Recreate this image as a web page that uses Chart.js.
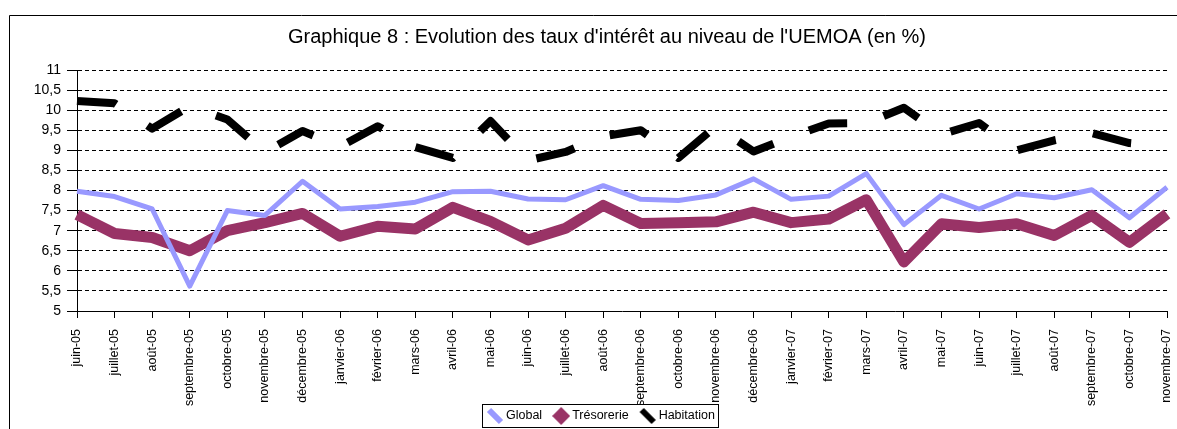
<!DOCTYPE html>
<html lang="fr">
<head>
<meta charset="utf-8">
<title>Graphique 8</title>
<script src="https://cdn.jsdelivr.net/npm/chart.js@4.4.1/dist/chart.umd.min.js"></script>
<style>
    html, body { margin: 0; padding: 0; background: #ffffff; }
    #wrap { width: 1177px; height: 429px; }
</style>
</head>
<body>
<div id="wrap"><canvas id="chart" width="1177" height="429"></canvas></div>
<script>
// Months (x categories)
const months = [
    'juin-05', 'juillet-05', 'août-05', 'septembre-05', 'octobre-05', 'novembre-05',
    'décembre-05', 'janvier-06', 'février-06', 'mars-06', 'avril-06', 'mai-06',
    'juin-06', 'juillet-06', 'août-06', 'septembre-06', 'octobre-06', 'novembre-06',
    'décembre-06', 'janvier-07', 'février-07', 'mars-07', 'avril-07', 'mai-07',
    'juin-07', 'juillet-07', 'août-07', 'septembre-07', 'octobre-07', 'novembre-07'
];

// Series values, in %
const globalRates = [
    7.98, 7.85, 7.54, 5.62, 7.50, 7.38, 8.23, 7.54, 7.60, 7.71,
    7.97, 7.98, 7.79, 7.77, 8.12, 7.78, 7.75, 7.89, 8.29, 7.78,
    7.86, 8.42, 7.15, 7.88, 7.54, 7.92, 7.82, 8.02, 7.32, 8.08
];
const tresorerieRates = [
    7.40, 6.93, 6.83, 6.50, 7.00, 7.20, 7.43, 6.86, 7.11, 7.04,
    7.58, 7.23, 6.77, 7.06, 7.63, 7.18, 7.20, 7.22, 7.46, 7.20,
    7.29, 7.77, 6.22, 7.17, 7.08, 7.17, 6.88, 7.38, 6.71, 7.42
];
const habitationRates = [
    10.23, 10.17, 9.54, 10.10, 9.77, 8.95, 9.48, 9.09, 9.60, 9.08,
    8.81, 9.73, 8.75, 8.96, 9.35, 9.50, 8.81, 9.60, 8.97, 9.33,
    9.67, 9.68, 10.06, 9.40, 9.68, 9.00, 9.25, 9.43, 9.18, 9.10
];

// Y axis
const yMin = 5;
const yMax = 11;
const yStep = 0.5;

const TITLE = "Graphique 8 : Evolution des taux d'intérêt au niveau de l'UEMOA (en %)";
const FONT = "'Liberation Sans', Arial, sans-serif";

/**
 * Small legend icons, Excel style
 */
function makeIcon(draw) {
    const c = document.createElement('canvas');
    c.width = 18;
    c.height = 18;
    draw(c.getContext('2d'));
    return c;
}

const icons = [
    makeIcon(ctx => {
        ctx.strokeStyle = '#9999ff';
        ctx.lineWidth = 6;
        ctx.beginPath();
        ctx.moveTo(3, 3);
        ctx.lineTo(15, 15);
        ctx.stroke();
    }),
    makeIcon(ctx => {
        ctx.fillStyle = '#993366';
        ctx.beginPath();
        ctx.moveTo(9, 0);
        ctx.lineTo(18, 9);
        ctx.lineTo(9, 18);
        ctx.lineTo(0, 9);
        ctx.closePath();
        ctx.fill();
    }),
    makeIcon(ctx => {
        ctx.strokeStyle = '#000000';
        ctx.lineWidth = 6;
        ctx.beginPath();
        ctx.moveTo(3, 3);
        ctx.lineTo(15, 15);
        ctx.stroke();
    })
];

/**
 * Outer frame of the graphic (left and top edges) and the title,
 * which Excel centres a bit right of the page middle
 */
const framePlugin = {
    id: 'frame',
    beforeDraw(chart) {
        const ctx = chart.ctx;
        ctx.save();
        ctx.fillStyle = '#ffffff';
        ctx.fillRect(0, 0, chart.width, chart.height);
        ctx.strokeStyle = '#000000';
        ctx.lineWidth = 1;
        ctx.beginPath();
        ctx.moveTo(9.5, chart.height);
        ctx.lineTo(9.5, 15.5);
        ctx.lineTo(chart.width, 15.5);
        ctx.stroke();

        ctx.fillStyle = '#000000';
        ctx.font = '20px ' + FONT;
        ctx.textAlign = 'center';
        ctx.textBaseline = 'middle';
        ctx.fillText(TITLE, 607, 37);
        ctx.restore();
    }
};

/**
 * Boxed legend under the axis labels
 */
const legendPlugin = {
    id: 'boxLegend',
    afterDraw(chart) {
        const ctx = chart.ctx;
        const centerX = 600;
        const top = 404;
        const height = 23;
        const midY = top + height / 2;
        const iconGap = 2;
        const itemGap = 10;

        ctx.save();
        ctx.font = '12.5px ' + FONT;
        const items = chart.data.datasets.map((ds, i) => ({
            text: ds.label,
            icon: icons[i],
            width: ctx.measureText(ds.label).width
        }));

        const total = items.reduce((sum, it) => sum + 18 + iconGap + it.width, 0) + itemGap * (items.length - 1);
        const boxLeft = Math.round(centerX - (total + 7) / 2);

        ctx.fillStyle = '#ffffff';
        ctx.fillRect(boxLeft, top, total + 7, height);
        ctx.strokeStyle = '#000000';
        ctx.lineWidth = 1;
        ctx.strokeRect(boxLeft + 0.5, top + 0.5, Math.round(total + 7), height);

        let x = boxLeft + 4;
        ctx.fillStyle = '#000000';
        ctx.textAlign = 'left';
        ctx.textBaseline = 'middle';
        items.forEach(it => {
            ctx.drawImage(it.icon, x, Math.round(midY - 9));
            x += 18 + iconGap;
            ctx.fillText(it.text, x, midY + 0.5);
            x += it.width + itemGap;
        });
        ctx.restore();
    }
};

const ctx = document.getElementById('chart');

new Chart(ctx, {
    type: 'line',
    data: {
        labels: months,
        datasets: [
            {
                label: 'Global',
                data: globalRates,
                borderColor: '#9999ff',
                borderWidth: 5,
                borderJoinStyle: 'round',
                pointRadius: 0,
                tension: 0
            },
            {
                label: 'Trésorerie',
                data: tresorerieRates,
                borderColor: '#993366',
                borderWidth: 11,
                borderJoinStyle: 'round',
                pointRadius: 0,
                tension: 0
            },
            {
                label: 'Habitation',
                data: habitationRates,
                borderColor: '#000000',
                borderWidth: 8,
                borderDash: [39.5, 37.8],
                borderCapStyle: 'butt',
                borderJoinStyle: 'round',
                pointRadius: 0,
                tension: 0
            }
        ]
    },
    options: {
        responsive: false,
        animation: false,
        layout: {
            padding: { left: 0, right: 10, top: 70, bottom: 21 }
        },
        plugins: {
            title: { display: false },
            legend: { display: false },
            tooltip: { enabled: false }
        },
        scales: {
            x: {
                offset: false,
                afterFit(scale) {
                    scale.height = 97;
                    scale.paddingLeft = 0;
                    scale.paddingRight = 0;
                },
                grid: {
                    display: true,
                    drawOnChartArea: false,
                    drawTicks: true,
                    tickLength: 7,
                    tickColor: '#000000',
                    color: '#000000'
                },
                border: { display: true, color: '#000000', width: 1 },
                ticks: {
                    autoSkip: false,
                    minRotation: 90,
                    maxRotation: 90,
                    padding: 11,
                    color: '#000000',
                    font: { family: FONT, size: 12.5 }
                }
            },
            y: {
                min: yMin,
                max: yMax,
                afterFit(scale) {
                    scale.width = 77;
                    scale.paddingTop = 0;
                },
                grid: {
                    display: true,
                    color: '#000000',
                    lineWidth: 1,
                    drawTicks: true,
                    tickLength: 10,
                    tickColor: '#000000'
                },
                border: { display: true, color: '#000000', width: 1, dash: [4, 3] },
                ticks: {
                    stepSize: yStep,
                    padding: 6,
                    color: '#000000',
                    font: { family: FONT, size: 14 },
                    callback: value => String(value).replace('.', ',')
                }
            }
        }
    },
    plugins: [framePlugin, legendPlugin]
});
</script>
</body>
</html>
